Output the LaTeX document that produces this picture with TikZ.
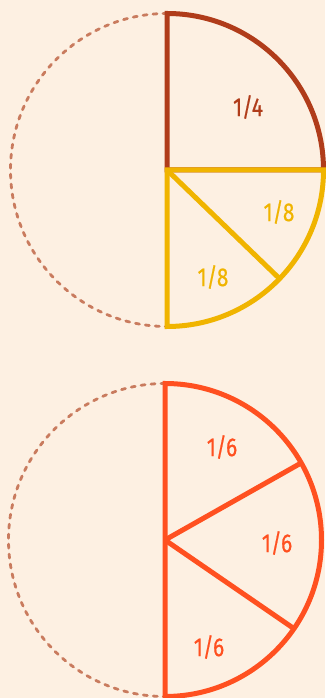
\documentclass[tikz,border=0pt]{standalone}
\usepackage{fontspec}
\setmainfont{Fira Sans}[FakeStretch=0.8,FakeBold=0.6]
\usetikzlibrary{positioning}
\definecolor{paper}{HTML}{FDF0E2}
\definecolor{rust}{HTML}{B03C1A}
\definecolor{gold}{HTML}{F0B400}
\definecolor{flame}{HTML}{FF5020}
\definecolor{clay}{HTML}{C97B5E}

\begin{document}
\begin{tikzpicture}[
  x=1pt,y=1pt,
  line join=miter,
  rim/.style={draw=clay,line width=2.8pt,line cap=round,dash pattern=on 4pt off 6pt},
  slice/.style={line width=5pt},
  frac/.style={font=\fontsize{26}{26}\selectfont,inner sep=0pt}
]
  \path[use as bounding box] (0,0) rectangle (325,698);
  \fill[paper] (0,0) rectangle (325,698);
  \def\rad{156.5}

  % quarter and two eighths
  \coordinate (ctop) at (167,528);
  \draw[rim] ([shift={(90:\rad)}]ctop) arc[start angle=90,end angle=270,radius=\rad];
  \draw[slice,rust] (ctop) -- ++(90:\rad) arc[start angle=90,end angle=0,radius=\rad] -- cycle;
  \draw[slice,gold] (ctop) -- ++(0:\rad) arc[start angle=0,end angle=-90,radius=\rad] -- cycle;
  \draw[slice,gold] (ctop) -- ++(-44:\rad);
  \node[frac,text=rust] (quarter) at (248,591) {1/4};
  \node[frac,text=gold] (eighthA) at (279,486) {1/8};
  \node[frac,text=gold] (eighthB) at (213,421) {1/8};

  % three sixths
  \coordinate (cbot) at (165,158);
  \draw[rim] ([shift={(90:\rad)}]cbot) arc[start angle=90,end angle=270,radius=\rad];
  \draw[slice,flame] (cbot) -- ++(90:\rad) arc[start angle=90,end angle=-90,radius=\rad] -- cycle;
  \draw[slice,flame] (cbot) -- ++(29.5:\rad);
  \draw[slice,flame] (cbot) -- ++(-34.5:\rad);
  \node[frac,text=flame] (sixthA) at (222,251) {1/6};
  \node[frac,text=flame] (sixthB) at (277,155) {1/6};
  \node[frac,text=flame] (sixthC) at (209,51) {1/6};
\end{tikzpicture}
\end{document}
